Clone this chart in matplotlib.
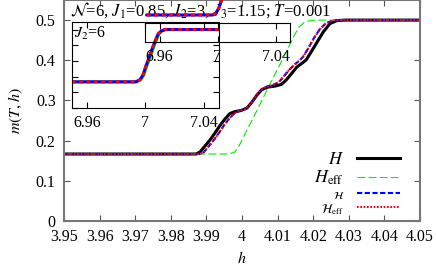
import matplotlib
matplotlib.use('Agg')
import matplotlib.pyplot as plt

plt.rcParams['font.family'] = ['Liberation Serif', 'DejaVu Serif']
plt.rcParams['mathtext.fontset'] = 'stix'
plt.rcParams['font.size'] = 11.5

# main panel: magnetisation curves m(T,h)
h_H = [3.95, 3.9871, 3.9882, 3.9896, 3.9910, 3.9924, 3.9938, 3.9952, 3.9966, 3.9980,
       3.9997, 4.0014, 4.0028, 4.0042, 4.0056, 4.0073, 4.0093, 4.0110, 4.0124, 4.0138,
       4.0154, 4.0169, 4.0180, 4.0194, 4.0211, 4.0228, 4.0247, 4.0267, 4.0289, 4.05]
m_H = [0.1667, 0.1667, 0.1716, 0.1866, 0.2015, 0.2189, 0.2376, 0.2537, 0.2674, 0.2724,
       0.2749, 0.2811, 0.2960, 0.3134, 0.3271, 0.3333, 0.3358, 0.3396, 0.3507, 0.3657,
       0.3831, 0.3930, 0.4005, 0.4204, 0.4453, 0.4701, 0.4913, 0.4988, 0.5, 0.5]

h_Heff = [3.95, 3.9961, 3.9978, 3.9989, 4.0000, 4.0037, 4.0073, 4.0110, 4.0146,
          4.0160, 4.0174, 4.0191, 4.0213, 4.05]
m_Heff = [0.1667, 0.1667, 0.1704, 0.1816, 0.2015, 0.2662, 0.3308, 0.3955, 0.4602,
          0.4826, 0.4938, 0.4988, 0.5, 0.5]

h_cal = [3.95, 3.9882, 3.9893, 3.9907, 3.9921, 3.9935, 3.9949, 3.9963, 3.9978, 3.9992,
         4.0006, 4.0020, 4.0034, 4.0045, 4.0056, 4.0070, 4.0087, 4.0104, 4.0118, 4.0132,
         4.0149, 4.0160, 4.0171, 4.0185, 4.0202, 4.0219, 4.0236, 4.0256, 4.0275, 4.05]
m_cal = [0.1667, 0.1667, 0.1716, 0.1866, 0.2015, 0.2189, 0.2376, 0.2537, 0.2674, 0.2736,
         0.2774, 0.2861, 0.3035, 0.3184, 0.3284, 0.3346, 0.3383, 0.3458, 0.3607, 0.3756,
         0.3905, 0.3980, 0.4080, 0.4279, 0.4552, 0.4776, 0.4925, 0.4988, 0.5, 0.5]
h_caleff = h_cal
m_caleff = m_cal

# inset J2=6
hA = [6.95, 6.9934, 6.9962, 6.9983, 7.0003, 7.0024, 7.0045, 7.0066, 7.0086, 7.0107, 7.0134, 7.05]
mA = [0.3333, 0.3333, 0.3400, 0.3551, 0.3838, 0.4093, 0.4380, 0.4635, 0.4858, 0.4953, 0.5, 0.5]
hA_eff = [6.95, 6.9941, 6.9969, 6.9990, 7.0010, 7.0031, 7.0052, 7.0073, 7.0093, 7.0114, 7.0141, 7.05]

# second (upper) inset
hB = [6.9515, 6.9969, 6.9990, 7.0010, 7.0031, 7.0052, 7.0073, 7.0093, 7.0114, 7.0141, 7.05]
mB = [0.3333, 0.3333, 0.3400, 0.3551, 0.3838, 0.4093, 0.4380, 0.4635, 0.4858, 0.5, 0.5]

W, Hh = 436, 269
fig = plt.figure(figsize=(W/100, Hh/100), dpi=100)
ax = fig.add_axes([64/W, 1-221/Hh, 356/W, 221/Hh])

ax.plot(h_H, m_H, color='black', lw=2.2, label=r'$H$')
ax.plot(h_Heff, m_Heff, color='#00ee00', lw=0.8, dashes=(7, 3), label=r'$H_{\rm eff}$')
ax.plot(h_cal, m_cal, color='blue', lw=1.5, dashes=(2.5, 1.2), label=r'$\mathcal{H}$')
ax.plot(h_caleff, m_caleff, color='red', lw=1.5, dashes=(0.8, 0.8), label=r'$\mathcal{H}_{\rm eff}$')

ax.set_xlim(3.95, 4.05)
ax.set_ylim(0, 0.55)
ax.set_xticks([3.95, 3.96, 3.97, 3.98, 3.99, 4.0, 4.01, 4.02, 4.03, 4.04, 4.05])
ax.set_xticklabels(['3.95', '3.96', '3.97', '3.98', '3.99', '4', '4.01', '4.02', '4.03', '4.04', '4.05'])
ax.set_yticks([0, 0.1, 0.2, 0.3, 0.4, 0.5])
ax.set_yticklabels(['0', '0.1', '0.2', '0.3', '0.4', '0.5'])
ax.tick_params(direction='in', top=True, right=True, length=4, width=0.8, color='#555555', pad=6)
for s in ax.spines.values():
    s.set_color('#777777')
    s.set_linewidth(1.5)
ax.set_xlabel(r'$h$', labelpad=4)
ax.set_ylabel(r'$m(T,h)$', labelpad=8)

ax.text(0.017, 0.928, r'$\mathcal{N}$=6, $J_1$=0.85, $J_2$=3, $J_3$=1.15; $T$=0.001',
        transform=ax.transAxes, va='baseline', ha='left', fontsize=12)

leg = ax.legend(loc='lower right', bbox_to_anchor=(0.944, 0.02), frameon=False,
                markerfirst=False, handlelength=2.7, handletextpad=0.8,
                labelspacing=0.05, borderpad=0, borderaxespad=0)
for t, fs in zip(leg.get_texts(), [13, 13, 8, 9]):
    t.set_fontsize(fs)

# inset J2=6
axA = fig.add_axes([72/W, 1-108/Hh, 147/W, 86/Hh])
axA.patch.set_alpha(0)
axA.plot(hA_eff, mA, color='#00ee00', lw=2)
axA.plot(hA, mA, color='blue', lw=2.2)
axA.plot(hA, mA, color='red', lw=2.2, dashes=(1.2, 1.2))
axA.set_xlim(6.95, 7.05)
axA.set_ylim(0.25, 0.524)
axA.set_xticks([6.96, 7.0, 7.04])
axA.set_xticklabels(['6.96', '7', '7.04'])
axA.set_yticks([0.25, 0.3, 0.35, 0.4, 0.45, 0.5])
axA.set_yticklabels([])
axA.tick_params(direction='in', top=True, right=True, length=4, width=0.8, pad=5)
axA.text(0.015, 0.82, r'$J_2$=6', transform=axA.transAxes, va='baseline')

# upper inset
axB = fig.add_axes([145/W, 1-42/Hh, 145/W, 19/Hh])
axB.patch.set_alpha(0)
axB.plot(hB, mB, color='blue', lw=2.2, clip_on=False)
axB.plot(hB, mB, color='red', lw=2.2, dashes=(1.2, 1.2), clip_on=False)
axB.set_xlim(6.95, 7.05)
axB.set_ylim(0.25, 0.3086)
axB.set_xticks([6.96, 7.0, 7.04])
axB.set_xticklabels(['6.96', '7', '7.04'])
axB.set_yticks([])
axB.tick_params(direction='in', top=True, length=4, width=0.8, pad=5)

fig.savefig('out.png', dpi=100)
